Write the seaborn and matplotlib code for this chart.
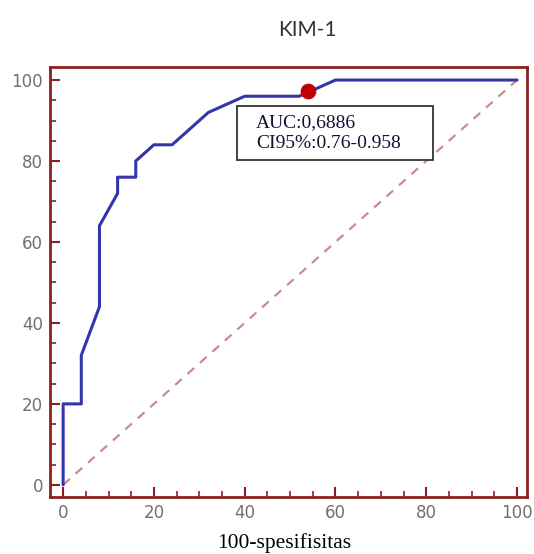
import pandas as pd
import matplotlib
matplotlib.use('Agg')
import matplotlib.pyplot as plt
import seaborn as sns
from matplotlib.ticker import MultipleLocator
from matplotlib.patches import Rectangle

# ROC KIM-1
spes_100 = [0, 0, 4, 4, 8, 8, 12, 12, 16, 16, 20, 24, 28, 32, 40, 52, 60, 100]
sens = [0, 20, 20, 32, 44, 64, 72, 76, 76, 80, 84, 84, 88, 92, 96, 96, 100, 100]
cut_x = [54]
cut_y = [97.2]
diag = [0, 100]
auc_text = 'AUC:0,6886\nCI95%:0.76-0.958'

roc = pd.DataFrame({'x': spes_100, 'y': sens})
ref = pd.DataFrame({'x': diag, 'y': diag})
cut = pd.DataFrame({'x': cut_x, 'y': cut_y})

sns.set_style('white')
spine_c = '#8b2020'

fig = plt.figure(figsize=(5.34, 5.54), dpi=100)
ax = fig.add_axes([0.0936, 0.1029, 0.8933, 0.776])

sns.lineplot(data=ref, x='x', y='y', ax=ax, color='#cc8a8a', lw=1.6,
             linestyle=(0, (4, 3.5)), sort=False, estimator=None)
sns.lineplot(data=roc, x='x', y='y', ax=ax, color='#3535aa', lw=2.2,
             sort=False, estimator=None)
sns.scatterplot(data=cut, x='x', y='y', ax=ax, color='#c00000', s=110,
                edgecolor='#c00000', zorder=5)

ax.set_xlim(-2.9, 102.2)
ax.set_ylim(-3, 103.2)
ax.xaxis.set_major_locator(MultipleLocator(20))
ax.yaxis.set_major_locator(MultipleLocator(20))
ax.xaxis.set_minor_locator(MultipleLocator(5))
ax.yaxis.set_minor_locator(MultipleLocator(5))
ax.tick_params(which='major', direction='in', length=7, width=1.5,
               color=spine_c, labelsize=12, labelcolor='#707070',
               bottom=True, left=True, pad=5)
ax.tick_params(which='minor', direction='in', length=4, width=1.2,
               color=spine_c, bottom=True, left=True)
for s in ax.spines.values():
    s.set_color(spine_c)
    s.set_linewidth(2)

ax.set_xlabel('')
ax.set_ylabel('')
fig.text(0.532, 0.019, '100-spesifisitas', ha='center', va='center',
         family='Liberation Serif', fontsize=15.5, color='black')
fig.text(0.575, 0.945, 'KIM-1', ha='center', va='center', family='Lato',
         fontsize=15, color='#333333')

# kotak keterangan AUC
ax.add_patch(Rectangle((38.3, 80.2), 43.2, 13.4, facecolor='white',
                       edgecolor='#333333', lw=1.3, zorder=6))
ax.text(42.5, 86.9, auc_text, family='Liberation Serif', fontsize=14,
        va='center', ha='left', linespacing=1.3, zorder=7, color='#111133')

fig.savefig('out.png', dpi=100)
